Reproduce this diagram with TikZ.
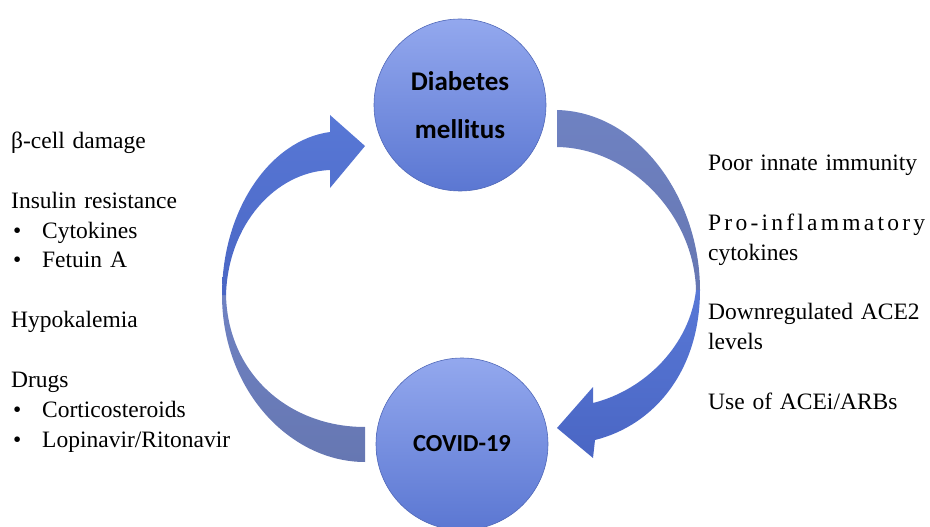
\documentclass[tikz,border=0pt]{standalone}
\usepackage{fontspec}
\setmainfont{Liberation Serif}
\newfontfamily\calfont{Carlito}
\usetikzlibrary{positioning,calc}
\definecolor{orbtop}{HTML}{93A8EE}
\definecolor{orbbot}{HTML}{5B77D2}
\definecolor{orbline}{HTML}{5068B8}
\definecolor{ribfront}{HTML}{5878D6}
\definecolor{ribfrontdk}{HTML}{4A66C4}
\definecolor{ribback}{HTML}{6F82C2}
\definecolor{ribbackdk}{HTML}{6677B2}

\begin{document}
\begin{tikzpicture}[x=1pt,y=-1pt,
  orb/.style={circle,draw=orbline,line width=0.6pt,top color=orbtop,bottom color=orbbot,minimum size=172pt,inner sep=0pt,align=center,font=\calfont\bfseries\fontsize{24.5}{48}\selectfont},
  listtext/.style={anchor=base west,inner sep=0pt,align=left,font=\fontsize{23.5}{30}\selectfont}]
  \useasboundingbox (0,0) rectangle (930,527);
  \clip (0,0) rectangle (930,527);
  % the two states
  \node[orb,font=\calfont\bfseries\fontsize{27}{48}\selectfont] (dm) at (460,105) {Diabetes\\mellitus};
  \node[orb] (cov) at (462,444) {COVID-19};
  % left ribbon, COVID-19 back to diabetes
  \shade[top color=ribback,bottom color=ribbackdk] (222,295) .. controls (222,390) and (290,462) .. (365,462) -- (365,427) .. controls (290,427) and (228,375) .. (226,295) -- cycle;
  \shade[top color=ribfront,bottom color=ribfrontdk] (222,295) .. controls (222,210) and (270,140) .. (330,132) -- (330,115) -- (365,146) -- (330,188) -- (330,170) .. controls (275,172) and (228,225) .. (226,295) -- cycle;
  % right ribbon, diabetes to COVID-19
  \shade[top color=ribback,bottom color=ribbackdk] (557,110) .. controls (640,112) and (700,200) .. (700,290) -- (696,290) .. controls (694,215) and (630,148) .. (557,147) -- cycle;
  \shade[top color=ribfront,bottom color=ribfrontdk] (700,290) .. controls (700,370) and (655,425) .. (595,440) -- (593,458) -- (557,428) -- (593,387) -- (593,403) .. controls (645,390) and (690,345) .. (696,290) -- cycle;
  % side lists
  \node[listtext,text width=260pt] (how) at (11,148) {β-cell damage\\[30pt]
    Insulin resistance\\
    \hspace*{2pt}\makebox[29pt][l]{•}Cytokines\\
    \hspace*{2pt}\makebox[29pt][l]{•}Fetuin A\\[30pt]
    Hypokalemia\\[30pt]
    Drugs\\
    \hspace*{2pt}\makebox[29pt][l]{•}Corticosteroids\\
    \hspace*{2pt}\makebox[29pt][l]{•}Lopinavir/Ritonavir};
  \node[listtext,text width=217pt] (why) at (708,170) {Poor innate immunity\\[30pt]
    \makebox[217pt][s]{P\hfill r\hfill o\hfill -\hfill i\hfill n\hfill f\hfill l\hfill a\hfill m\hfill m\hfill a\hfill t\hfill o\hfill r\hfill y}\\
    cytokines\\[30pt]
    \makebox[217pt][s]{Downregulated ACE2}\\
    levels\\[30pt]
    Use of ACEi/ARBs};
\end{tikzpicture}
\end{document}
